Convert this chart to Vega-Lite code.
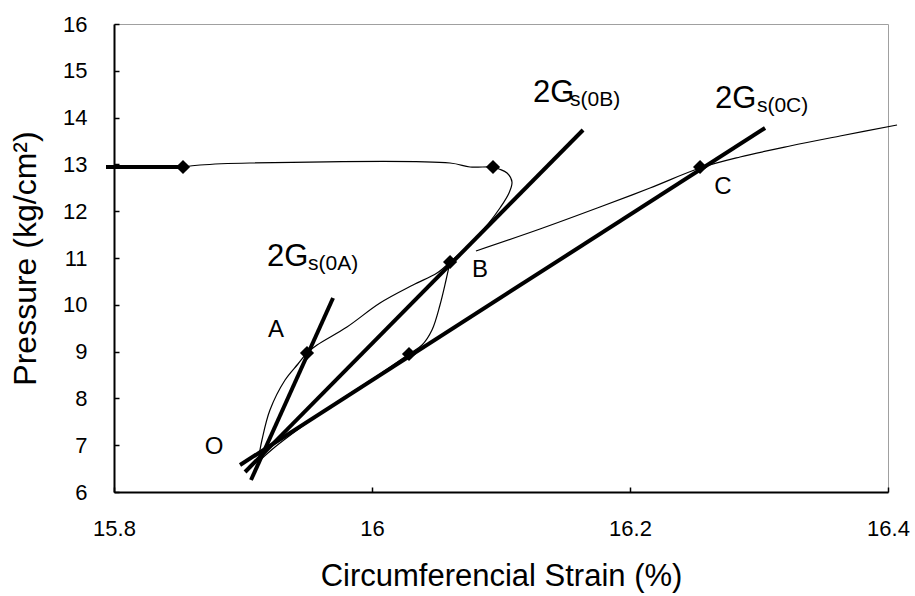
{
  "$schema": "https://vega.github.io/schema/vega-lite/v6.json",
  "width": 774,
  "height": 468,
  "autosize": "none",
  "padding": {"left": 114, "top": 24, "right": 27, "bottom": 104},
  "background": "white",
  "config": {
    "view": {"stroke": "#a0a0a0", "strokeWidth": 1},
    "font": "Liberation Sans",
    "axis": {
      "grid": false,
      "domainColor": "black",
      "domainWidth": 2,
      "tickColor": "black",
      "tickWidth": 1.5,
      "tickSize": -5,
      "labelFlush": false,
      "labelFont": "Liberation Sans",
      "labelFontSize": 22,
      "labelColor": "black",
      "titleFont": "Liberation Sans",
      "titleFontWeight": "normal",
      "titleColor": "black"
    }
  },
  "datasets": {
    "lines": [
      {"s": "OA", "i": 0, "x": 15.9062, "y": 6.256},
      {"s": "OA", "i": 1, "x": 15.9698, "y": 10.145},
      {"s": "OB", "i": 0, "x": 15.9016, "y": 6.427},
      {"s": "OB", "i": 1, "x": 16.1636, "y": 13.735},
      {"s": "OC", "i": 0, "x": 15.8977, "y": 6.577},
      {"s": "OC", "i": 1, "x": 16.3047, "y": 13.778},
      {"s": "H", "i": 0, "x": 15.7938, "y": 12.944},
      {"s": "H", "i": 1, "x": 15.8535, "y": 12.944}
    ],
    "curves": [
      {"s": "c1", "i": 0, "x": 15.9116, "y": 6.641},
      {"s": "c1", "i": 1, "x": 15.9147, "y": 7.111},
      {"s": "c1", "i": 2, "x": 15.9209, "y": 7.752},
      {"s": "c1", "i": 3, "x": 15.9326, "y": 8.393},
      {"s": "c1", "i": 4, "x": 15.9426, "y": 8.735},
      {"s": "c1", "i": 5, "x": 15.9496, "y": 8.970},
      {"s": "c1", "i": 6, "x": 15.9574, "y": 9.141},
      {"s": "c1", "i": 7, "x": 15.9806, "y": 9.526},
      {"s": "c1", "i": 8, "x": 16.0062, "y": 10.038},
      {"s": "c1", "i": 9, "x": 16.0318, "y": 10.423},
      {"s": "c1", "i": 10, "x": 16.0504, "y": 10.679},
      {"s": "c1", "i": 11, "x": 16.0605, "y": 10.915},
      {"s": "c2", "i": 0, "x": 16.0605, "y": 10.915},
      {"s": "c2", "i": 1, "x": 16.0574, "y": 10.530},
      {"s": "c2", "i": 2, "x": 16.0527, "y": 9.996},
      {"s": "c2", "i": 3, "x": 16.0465, "y": 9.462},
      {"s": "c2", "i": 4, "x": 16.0388, "y": 9.141},
      {"s": "c2", "i": 5, "x": 16.0287, "y": 8.949},
      {"s": "c2", "i": 6, "x": 16.0062, "y": 8.521},
      {"s": "c2", "i": 7, "x": 15.9752, "y": 7.966},
      {"s": "c2", "i": 8, "x": 15.9442, "y": 7.368},
      {"s": "c2", "i": 9, "x": 15.9248, "y": 6.962},
      {"s": "c2", "i": 10, "x": 15.9116, "y": 6.641},
      {"s": "c3", "i": 0, "x": 16.0605, "y": 10.915},
      {"s": "c3", "i": 1, "x": 16.0760, "y": 11.299},
      {"s": "c3", "i": 2, "x": 16.0899, "y": 11.726},
      {"s": "c3", "i": 3, "x": 16.0992, "y": 12.068},
      {"s": "c3", "i": 4, "x": 16.1062, "y": 12.389},
      {"s": "c3", "i": 5, "x": 16.1085, "y": 12.624},
      {"s": "c3", "i": 6, "x": 16.1047, "y": 12.816},
      {"s": "c3", "i": 7, "x": 16.0984, "y": 12.902},
      {"s": "c3", "i": 8, "x": 16.0938, "y": 12.944},
      {"s": "c3", "i": 9, "x": 16.0760, "y": 12.944},
      {"s": "c3", "i": 10, "x": 16.0605, "y": 13.030},
      {"s": "c3", "i": 11, "x": 15.9054, "y": 13.030},
      {"s": "c3", "i": 12, "x": 15.8667, "y": 12.987},
      {"s": "c3", "i": 13, "x": 15.8535, "y": 12.944},
      {"s": "c4", "i": 0, "x": 16.0806, "y": 11.150},
      {"s": "c4", "i": 1, "x": 16.1302, "y": 11.620},
      {"s": "c4", "i": 2, "x": 16.1767, "y": 12.090},
      {"s": "c4", "i": 3, "x": 16.2155, "y": 12.496},
      {"s": "c4", "i": 4, "x": 16.2543, "y": 12.923},
      {"s": "c4", "i": 5, "x": 16.2853, "y": 13.158},
      {"s": "c4", "i": 6, "x": 16.3240, "y": 13.393},
      {"s": "c4", "i": 7, "x": 16.3628, "y": 13.607},
      {"s": "c4", "i": 8, "x": 16.4070, "y": 13.842}
    ],
    "points": [
      {"x": 15.8535, "y": 12.944},
      {"x": 16.0938, "y": 12.944},
      {"x": 15.9496, "y": 8.970},
      {"x": 16.0605, "y": 10.915},
      {"x": 16.0287, "y": 8.949},
      {"x": 16.2543, "y": 12.944}
    ],
    "letters": [
      {"t": "O", "x": 15.8775, "y": 6.962},
      {"t": "A", "x": 15.9256, "y": 9.462},
      {"t": "B", "x": 16.0837, "y": 10.744},
      {"t": "C", "x": 16.2721, "y": 12.517}
    ],
    "big": [
      {"t": "2G", "x": 15.9186, "y": 10.829},
      {"t": "2G", "x": 16.1248, "y": 14.333},
      {"t": "2G", "x": 16.2659, "y": 14.205}
    ],
    "sub": [
      {"t": "s(0A)", "x": 15.9504, "y": 10.744},
      {"t": "s(0B)", "x": 16.1535, "y": 14.248},
      {"t": "s(0C)", "x": 16.2984, "y": 14.120}
    ]
  },
  "encoding": {
    "x": {
      "field": "x", "type": "quantitative",
      "scale": {"domain": [15.8, 16.4], "nice": false, "zero": false},
      "axis": {"values": [15.8, 16, 16.2, 16.4], "format": "~g", "labelFontSize": 22, "labelPadding": 31, "title": "Circumferencial Strain (%)", "titleFontSize": 31, "titlePadding": 22}
    },
    "y": {
      "field": "y", "type": "quantitative",
      "scale": {"domain": [6, 16], "nice": false, "zero": false},
      "axis": {"values": [6, 7, 8, 9, 10, 11, 12, 13, 14, 15, 16], "format": "d", "labelFontSize": 22, "labelPadding": 32, "title": "Pressure (kg/cm²)", "titleFontSize": 32, "titlePadding": 20}
    }
  },
  "layer": [
    {
      "data": {"name": "curves"},
      "mark": {"type": "line", "color": "black", "strokeWidth": 1.2, "clip": false, "interpolate": "catmull-rom"},
      "encoding": {"detail": {"field": "s"}, "order": {"field": "i"}}
    },
    {
      "data": {"name": "lines"},
      "mark": {"type": "line", "color": "black", "strokeWidth": 4, "clip": false},
      "encoding": {"detail": {"field": "s"}, "order": {"field": "i"}}
    },
    {
      "data": {"name": "points"},
      "mark": {"type": "point", "shape": "diamond", "filled": true, "color": "black", "size": 200, "opacity": 1}
    },
    {
      "data": {"name": "letters"},
      "mark": {"type": "text", "fontSize": 24, "align": "center", "baseline": "middle", "color": "black", "font": "Liberation Sans"},
      "encoding": {"text": {"field": "t"}}
    },
    {
      "data": {"name": "big"},
      "mark": {"type": "text", "fontSize": 31, "align": "left", "baseline": "alphabetic", "color": "black", "font": "Liberation Sans"},
      "encoding": {"text": {"field": "t"}}
    },
    {
      "data": {"name": "sub"},
      "mark": {"type": "text", "fontSize": 21, "align": "left", "baseline": "alphabetic", "color": "black", "font": "Liberation Sans"},
      "encoding": {"text": {"field": "t"}}
    }
  ]
}
